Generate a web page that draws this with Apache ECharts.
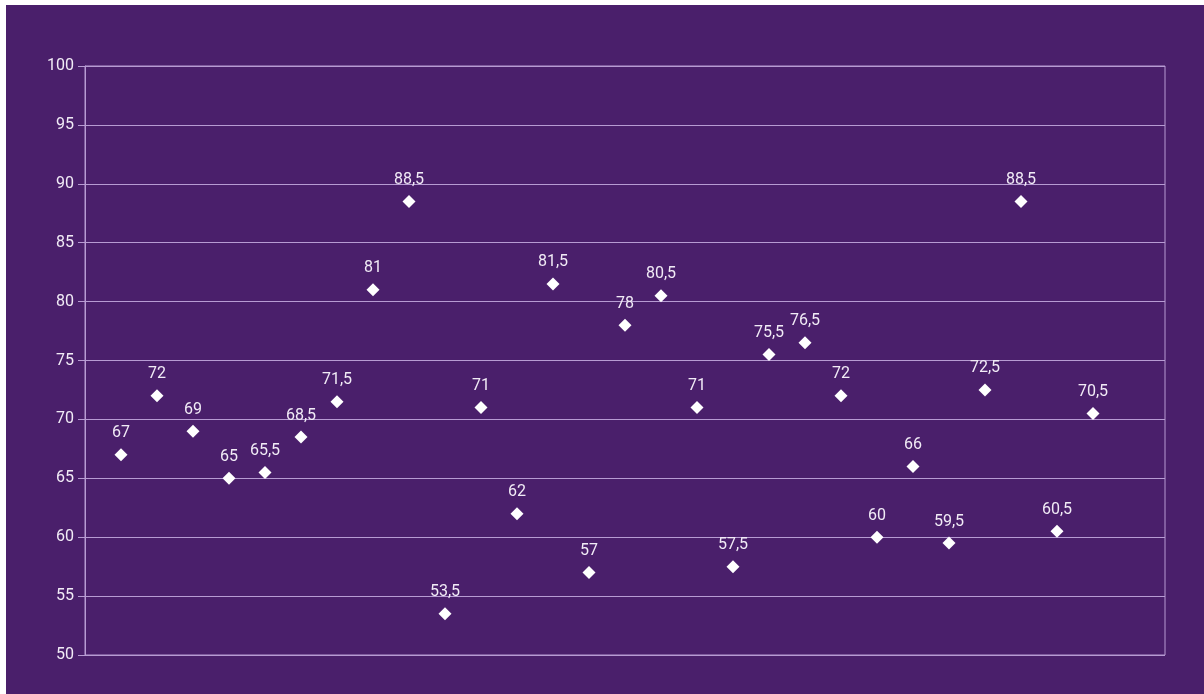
<!DOCTYPE html>
<html>
<head>
<meta charset="utf-8">
<script src="https://cdn.jsdelivr.net/npm/echarts@6/dist/echarts.min.js"></script>
<style>
html,body{margin:0;padding:0;background:#ffffff;}
#Charts{position:absolute;left:6px;top:5px;width:1198px;height:689px;}
</style>
</head>
<body>
<div id="Charts"></div>
<script>
var positions = [1,2,3,4,5,6,7,8,9,10,11,12,13,14,15,16,17,18,19,20,21,22,23,24,25,26,27,28];
var scores = [67,72,69,65,65.5,68.5,71.5,81,88.5,53.5,71,62,81.5,57,78,80.5,71,57.5,75.5,76.5,72,60,66,59.5,72.5,88.5,60.5,70.5];
var yTicks = [50,55,60,65,70,75,80,85,90,95,100];

init();
function init(){
	var points = [];
	for (var i = 0; i < scores.length; i++) {
		points[i] = [positions[i], scores[i]];
	};
	var lineColor = '#b79bd3';
	var textColor = '#f1ebf6';
	var option = {
		backgroundColor:'#4a1f6b',
		animation:false,
		grid:{
			left:79,
			top:61,
			width:1080,
			height:589,
			show:true,
			borderColor:lineColor,
			borderWidth:1
		},
		xAxis:{
			type:'value',
			min:0,
			max:30,
			axisLine:{show:false},
			axisTick:{show:false},
			axisLabel:{show:false},
			splitLine:{show:false}
		},
		yAxis:{
			type:'value',
			min:yTicks[0],
			max:yTicks[yTicks.length-1],
			interval:5,
			axisLine:{show:true,lineStyle:{color:lineColor}},
			axisTick:{show:true,length:7,lineStyle:{color:lineColor}},
			axisLabel:{
				color:textColor,
				fontFamily:'Roboto, Liberation Sans, Arial, sans-serif',
				fontSize:16,
				margin:11
			},
			splitLine:{show:true,lineStyle:{color:lineColor,width:1}}
		},
		series:[
			{
				type:'scatter',
				symbol:'diamond',
				symbolSize:[13,13],
				data:points,
				itemStyle:{color:'#ffffff',opacity:1},
				label:{
					show:true,
					position:'top',
					distance:7,
					color:textColor,
					fontFamily:'Roboto, Liberation Sans, Arial, sans-serif',
					fontSize:16,
					formatter:function(p){
						return String(p.value[1]).replace('.', ',');
					}
				}
			}
		]
	};
	var myChart = echarts.init(document.getElementById('Charts'));
	myChart.setOption(option);
}
</script>
</body>
</html>
